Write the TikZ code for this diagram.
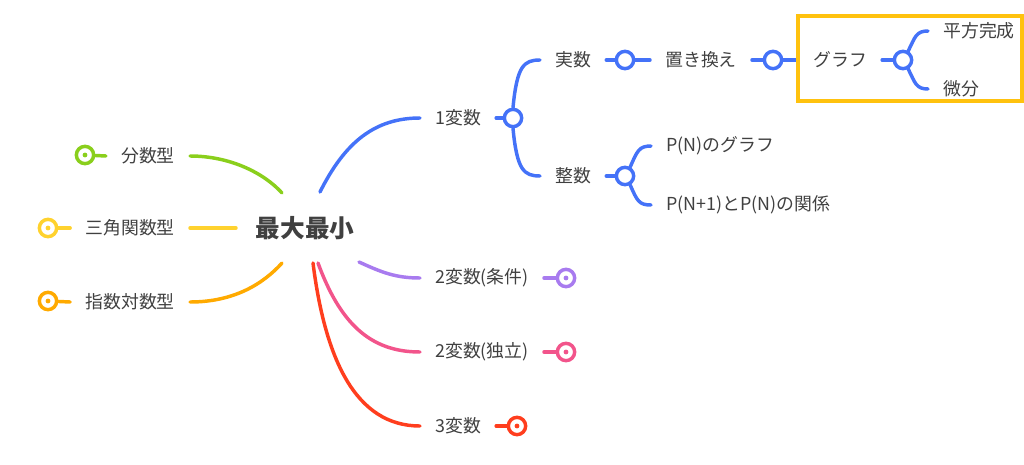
\documentclass[tikz,border=0pt]{standalone}
\usepackage{fontspec}
\setmainfont{Noto Sans CJK JP}
\usetikzlibrary{calc}
\definecolor{cblue}{HTML}{4472F8}
\definecolor{cgreen}{HTML}{8ACF1C}
\definecolor{cyellow}{HTML}{FFD22E}
\definecolor{corange}{HTML}{FFAA00}
\definecolor{cpurple}{HTML}{A87BEF}
\definecolor{cpink}{HTML}{F2548B}
\definecolor{cred}{HTML}{FF3E1E}
\definecolor{cbox}{HTML}{FFC20E}
\definecolor{ctext}{HTML}{404040}
\tikzset{
  lbl/.style={inner xsep=11.25pt,inner ysep=2pt,text=ctext,font=\fontsize{13.4}{15}\selectfont},
  rootlbl/.style={inner sep=0pt,text=ctext,font=\fontsize{18.5}{21}\selectfont\bfseries},
  conn/.style={line width=2.6pt,line cap=round},
  knob/.style={circle,draw,line width=2.6pt,fill=white,minimum size=13pt,inner sep=0pt},
  endknob/.style={circle,draw,line width=2.6pt,fill=white,minimum size=13pt,inner sep=0pt},
}
\begin{document}
\begin{tikzpicture}[x=0.75pt,y=-0.75pt]
\useasboundingbox (0,0) rectangle (1024,464);
% root
\node[rootlbl] (root) at (305,228) {最大最小};
\coordinate (rg) at ($(root.center)+(-23,-35)$);
\coordinate (ry) at ($(root.center)+(-69,0)$);
\coordinate (ro) at ($(root.center)+(-23,35)$);
\coordinate (rb) at ($(root.center)+(15,-36)$);
\coordinate (rp) at ($(root.center)+(54,34)$);
\coordinate (rk) at ($(root.center)+(13,35)$);
\coordinate (rr) at ($(root.center)+(8,35)$);
% left
\node[lbl,anchor=east] (fs) at (190,156) {分数型};
\node[lbl,anchor=east] (sk) at (190,228) {三角関数型};
\node[lbl,anchor=east] (sd) at (190,302) {指数対数型};
\node[endknob,draw=cgreen] (efs) at (85,155) {};
\node[endknob,draw=cyellow] (esk) at (48,228) {};
\node[endknob,draw=corange] (esd) at (48,301) {};
\fill[cgreen] (efs) circle (1.8pt);
\fill[cyellow] (esk) circle (1.8pt);
\fill[corange] (esd) circle (1.8pt);
\draw[conn,cgreen] (efs) -- (fs.west);
\draw[conn,cyellow] (esk) -- (sk.west);
\draw[conn,corange] (esd) -- (sd.west);
\draw[conn,cgreen] (fs.east) .. controls +(40,0) and +(-18,-20) .. (rg);
\draw[conn,cyellow] (sk.east) -- (ry);
\draw[conn,corange] (sd.east) .. controls +(45,0) and +(-18,20) .. (ro);
% right: 1変数
\node[lbl,anchor=west] (v1) at (420,118) {1変数};
\draw[conn,cblue] (rb) .. controls +(25,-50) and +(-45,0) .. (v1.west);
\node[knob,draw=cblue] (c1) at (513,118) {};
\draw[conn,cblue] (v1.east) -- (c1);
\node[lbl,anchor=west] (sj) at (540,60) {実数};
\node[lbl,anchor=west] (si) at (540,176) {整数};
\draw[conn,cblue] (c1.north) .. controls +(4,-42) and +(-16,0) .. (sj.west);
\draw[conn,cblue] (c1.south) .. controls +(4,42) and +(-16,0) .. (si.west);
% 実数 chain
\node[knob,draw=cblue] (c2) at (625,60) {};
\node[lbl,anchor=west] (ok) at (650,60) {置き換え};
\draw[conn,cblue] (sj.east) -- (c2) -- (ok.west);
\node[knob,draw=cblue] (c3) at (773,60) {};
\node[lbl,anchor=west] (gr) at (798,60) {グラフ};
\draw[conn,cblue] (ok.east) -- (c3) -- (gr.west);
\node[knob,draw=cblue] (c4) at (903,60) {};
\draw[conn,cblue] (gr.east) -- (c4);
\node[lbl,anchor=west] (hk) at (928,31) {平方完成};
\node[lbl,anchor=west] (bb) at (928,89) {微分};
\draw[conn,cblue] (c4.60) .. controls +(7,-14) and +(-12,0) .. (hk.west);
\draw[conn,cblue] (c4.-60) .. controls +(7,14) and +(-12,0) .. (bb.west);
\draw[cbox,line width=2.4pt] (798,16) rectangle (1022,101);
% 整数 chain
\node[knob,draw=cblue] (c5) at (625,176) {};
\draw[conn,cblue] (si.east) -- (c5);
\node[lbl,anchor=west] (pg) at (651,146) {P(N)のグラフ};
\node[lbl,anchor=west] (pk) at (651,205) {P(N+1)とP(N)の関係};
\draw[conn,cblue] (c5.60) .. controls +(7,-16) and +(-12,0) .. (pg.west);
\draw[conn,cblue] (c5.-60) .. controls +(7,16) and +(-12,0) .. (pk.west);
% 2変数, 3変数
\node[lbl,anchor=west] (jk) at (420,278) {2変数(条件)};
\node[lbl,anchor=west] (dr) at (420,352) {2変数(独立)};
\node[lbl,anchor=west] (v3) at (420,426) {3変数};
\draw[conn,cpurple] (rp) .. controls +(22,10) and +(-25,0) .. (jk.west);
\draw[conn,cpink] (rk) .. controls +(22,60) and +(-50,0) .. (dr.west);
\draw[conn,cred] (rr) .. controls +(12,95) and +(-65,0) .. (v3.west);
\node[endknob,draw=cpurple] (ejk) at (566,278) {};
\node[endknob,draw=cpink] (edr) at (566,352) {};
\node[endknob,draw=cred] (ev3) at (517,426) {};
\fill[cpurple] (ejk) circle (1.8pt);
\fill[cpink] (edr) circle (1.8pt);
\fill[cred] (ev3) circle (1.8pt);
\draw[conn,cpurple] (jk.east) -- (ejk);
\draw[conn,cpink] (dr.east) -- (edr);
\draw[conn,cred] (v3.east) -- (ev3);
\end{tikzpicture}
\end{document}
